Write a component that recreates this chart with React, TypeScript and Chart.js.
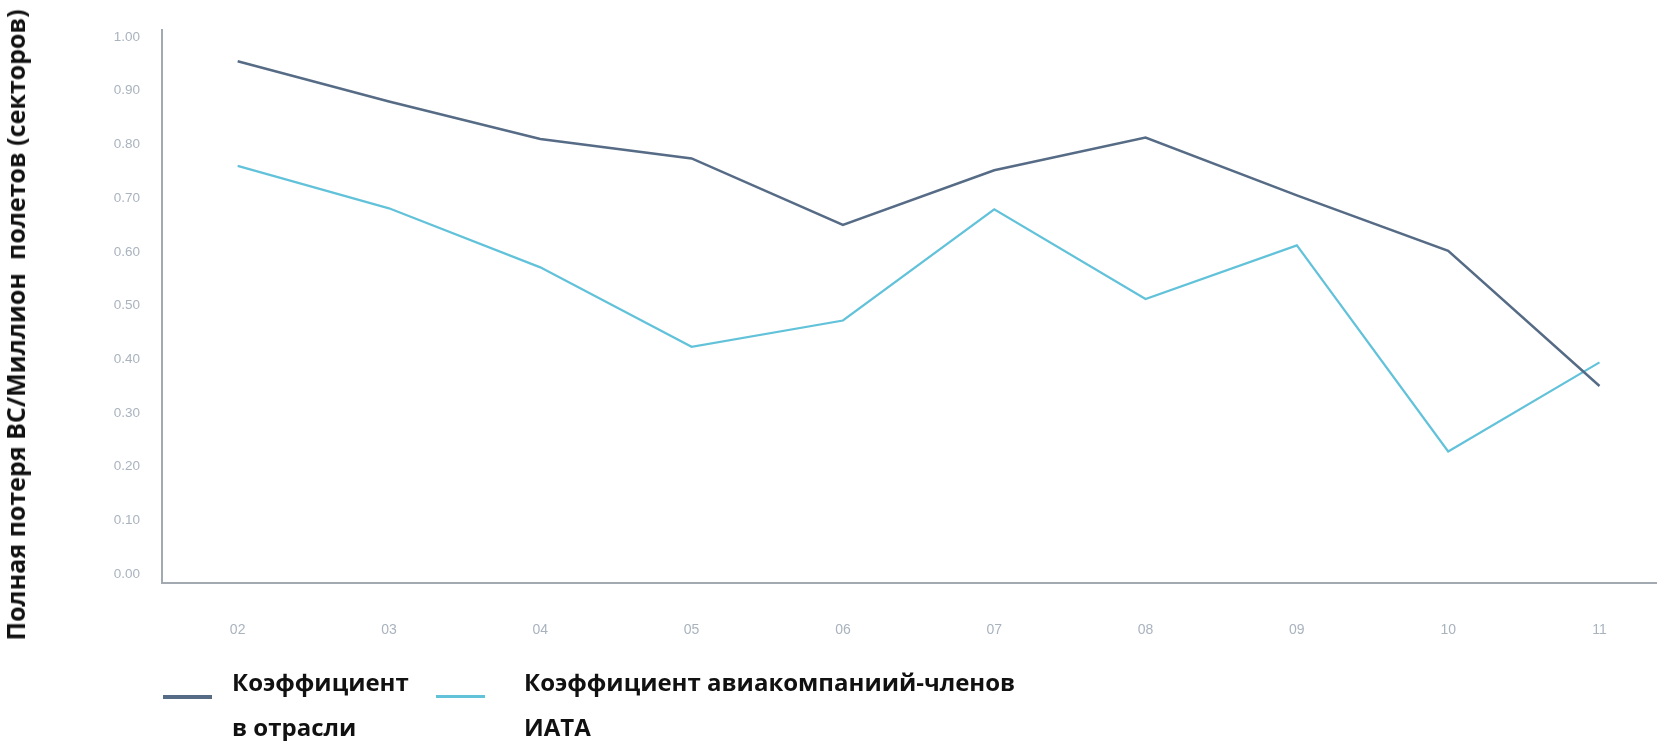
import React, { useEffect, useRef } from "react";
import { Chart, registerables } from "chart.js";

Chart.register(...registerables);

const years = ["02", "03", "04", "05", "06", "07", "08", "09", "10", "11"];
const industryRate = [0.955, 0.88, 0.81, 0.774, 0.65, 0.752, 0.813, 0.705, 0.602, 0.35];
const iataRate = [0.76, 0.681, 0.571, 0.423, 0.472, 0.679, 0.512, 0.612, 0.228, 0.394];
const yTickValues = [0, 0.1, 0.2, 0.3, 0.4, 0.5, 0.6, 0.7, 0.8, 0.9, 1.0];
const yTitle = "Полная потеря ВС/Миллион  полетов (секторов)";
const legendIndustry = ["Коэффициент", "в отрасли"];
const legendIata = ["Коэффициент авиакомпаниий-членов", "ИАТА"];

const DARK = "#566b85";
const LIGHT = "#62c2da";

export default function App() {
  const ref = useRef<HTMLCanvasElement | null>(null);

  useEffect(() => {
    if (!ref.current) return;
    const chart = new Chart(ref.current, {
      type: "line",
      data: {
        datasets: [
          {
            label: legendIndustry.join(" "),
            data: industryRate.map((v, i) => ({ x: i, y: v })),
            borderColor: DARK,
            borderWidth: 2.5,
            pointRadius: 0,
            tension: 0,
          },
          {
            label: legendIata.join(" "),
            data: iataRate.map((v, i) => ({ x: i, y: v })),
            borderColor: LIGHT,
            borderWidth: 2.2,
            pointRadius: 0,
            tension: 0,
          },
        ],
      },
      options: {
        animation: false,
        responsive: false,
        maintainAspectRatio: false,
        layout: { padding: { top: 30, right: 0, bottom: 0, left: 0 } },
        plugins: { legend: { display: false }, tooltip: { enabled: false } },
        scales: {
          x: {
            type: "linear",
            min: -0.5,
            max: 9.38,
            grid: { display: false, drawTicks: false, tickLength: 0 },
            border: { display: true, color: "#a3a9b0", width: 2 },
            afterBuildTicks: (scale: any) => {
              scale.ticks = years.map((_, i) => ({ value: i }));
            },
            afterFit: (scale: any) => {
              scale.height = 158;
            },
            ticks: {
              padding: 39,
              color: "#a9b3be",
              font: { family: "Liberation Sans", size: 14 },
              callback: (v: any) => years[Number(v)] ?? "",
              maxRotation: 0,
              autoSkip: false,
            },
          },
          y: {
            type: "linear",
            min: -0.017,
            max: 1.013,
            grid: { display: false, drawTicks: false, tickLength: 0 },
            border: { display: true, color: "#a3a9b0", width: 2 },
            afterBuildTicks: (scale: any) => {
              scale.ticks = yTickValues.map((v) => ({ value: v }));
            },
            afterFit: (scale: any) => {
              scale.width = 162;
            },
            ticks: {
              padding: 22,
              color: "#a9b3be",
              font: { family: "Liberation Sans", size: 13.5 },
              callback: (v: any) => Number(v).toFixed(2),
            },
          },
        },
      },
    });
    return () => chart.destroy();
  }, []);

  const textStyle: React.CSSProperties = {
    position: "absolute",
    fontFamily: "'Open Sans', sans-serif",
    fontWeight: 700,
    fontSize: 24,
    lineHeight: "45px",
    color: "#111",
    whiteSpace: "nowrap",
  };

  return (
    <div style={{ position: "fixed", left: 0, top: 0, width: 1657, height: 741, background: "#fff" }}>
      <canvas ref={ref} width={1657} height={741} style={{ position: "absolute", left: 0, top: 0 }} />
      <div
        style={{
          position: "absolute",
          left: 15,
          top: 325,
          transform: "translate(-50%, -50%) rotate(-90deg)",
          fontFamily: "'Open Sans', sans-serif",
          fontWeight: 700,
          fontSize: 25,
          lineHeight: "28px",
          color: "#111",
          whiteSpace: "pre",
        }}
      >
        {yTitle}
      </div>
      <div style={{ position: "absolute", left: 163, top: 695, width: 49, height: 4, background: DARK }} />
      <div style={{ ...textStyle, left: 232, top: 659 }}>
        {legendIndustry.map((t) => (
          <div key={t}>{t}</div>
        ))}
      </div>
      <div style={{ position: "absolute", left: 436, top: 695, width: 49, height: 3, background: LIGHT }} />
      <div style={{ ...textStyle, left: 524, top: 659 }}>
        {legendIata.map((t) => (
          <div key={t}>{t}</div>
        ))}
      </div>
    </div>
  );
}
